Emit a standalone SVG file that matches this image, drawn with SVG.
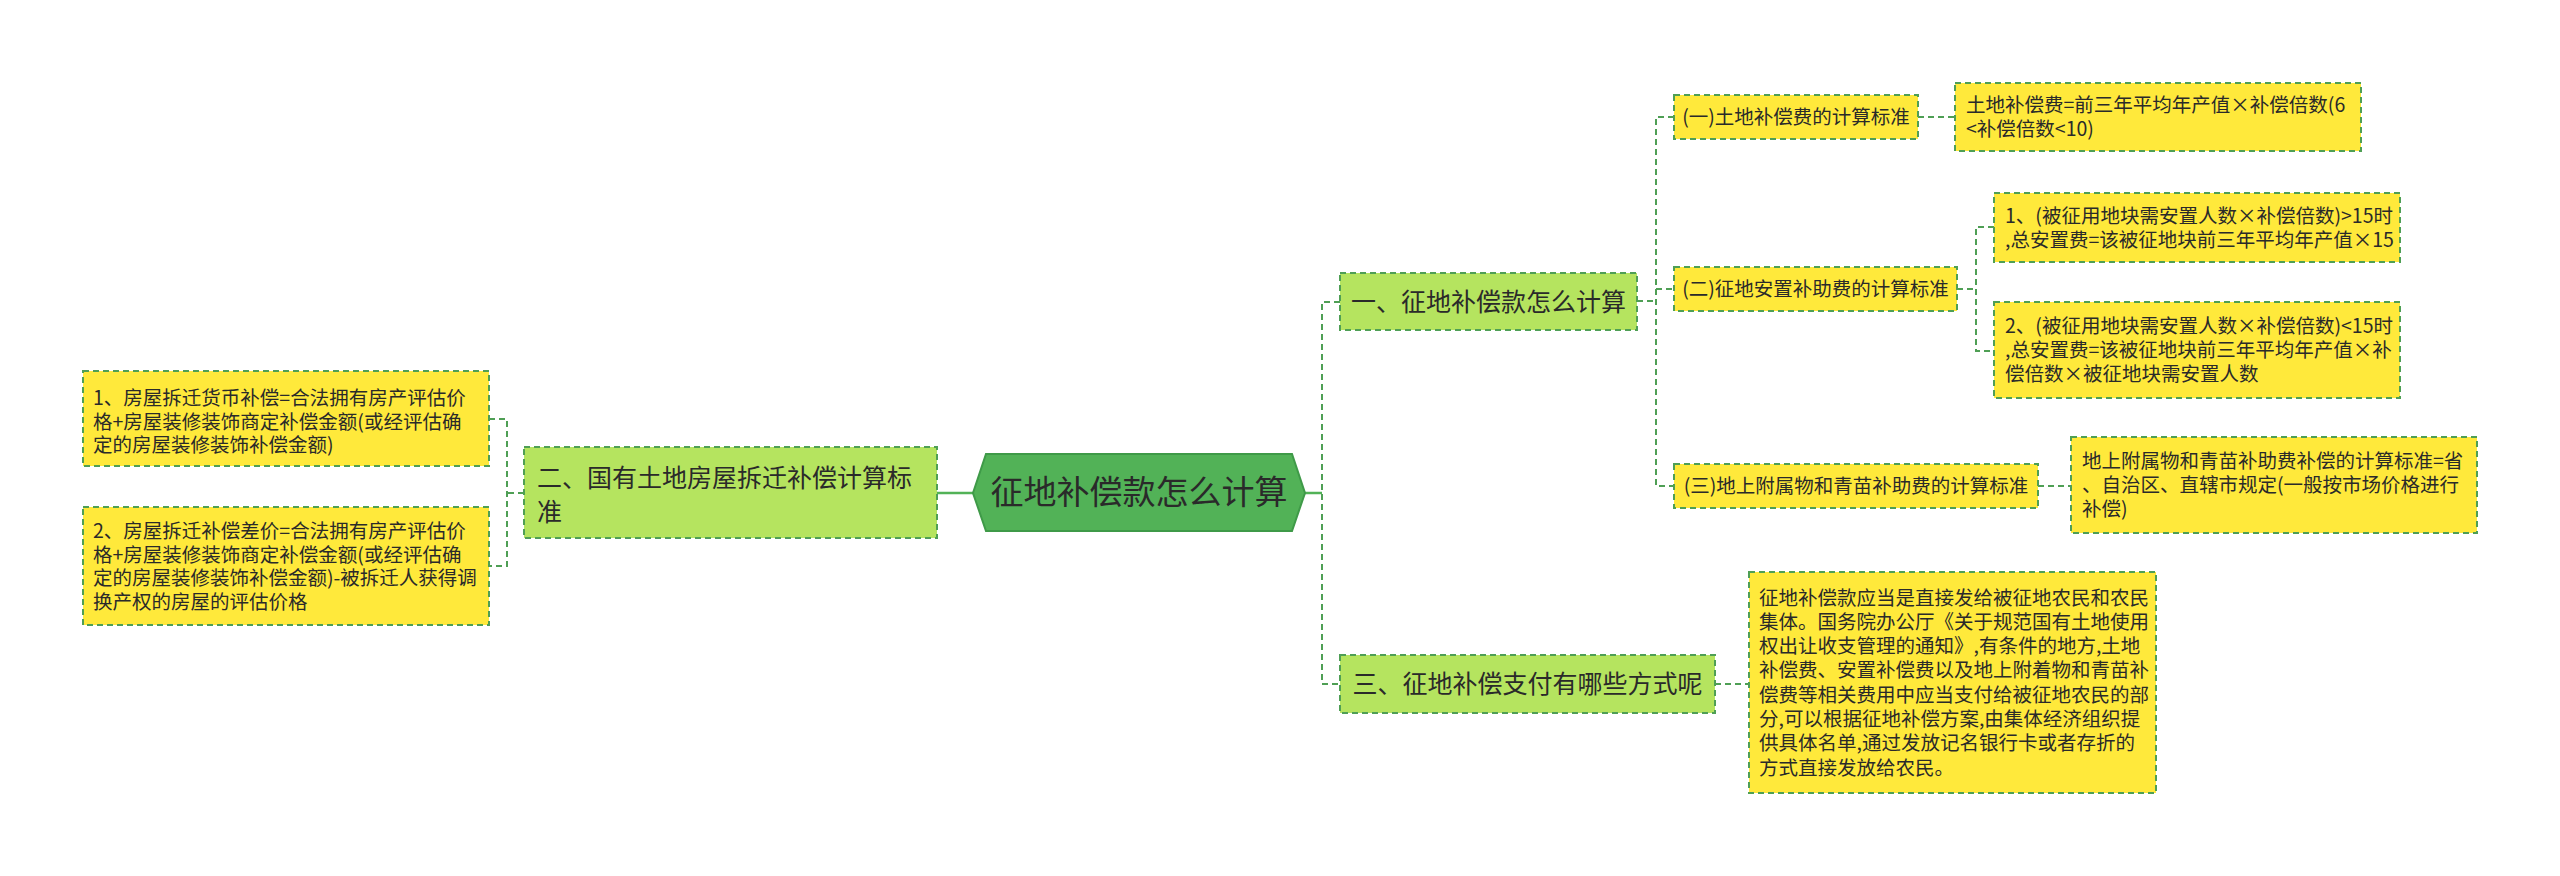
<svg xmlns="http://www.w3.org/2000/svg" width="2560" height="876" viewBox="0 0 2560 876">
<style>
text{font-family:"Microsoft YaHei","Noto Sans CJK SC","Noto Sans",sans-serif;fill:#2a2a2a}
.s{font-size:19.5px}
.m{font-size:25px}
.c{font-size:33px}
.mid{text-anchor:middle}
.y{fill:#ffe93b;stroke:#4f9f55;stroke-width:2;stroke-dasharray:6 4}
.g{fill:#b5e45f;stroke:#4f9f55;stroke-width:2;stroke-dasharray:6 4}
.hex{fill:#52b257;stroke:#3f9a48;stroke-width:2}
.d{fill:none;stroke:#4f9f55;stroke-width:2;stroke-dasharray:6 4}
.sol{fill:none;stroke:#52b257;stroke-width:2.5}
</style>
<rect width="2560" height="876" fill="#ffffff"/>
<g id="connectors">
<path class="sol" d="M973 493H937"/>
<path class="sol" d="M1305 493H1322"/>
<path class="d" d="M524 493H507M489 419H507V566H489"/>
<path class="d" d="M1340 302H1322V684H1340"/>
<path class="d" d="M1637 301H1656M1674 117H1656V486H1674M1656 289H1674"/>
<path class="d" d="M1918 117H1955"/>
<path class="d" d="M1957 289H1976M1994 227H1976V351H1994"/>
<path class="d" d="M2038 486H2071"/>
<path class="d" d="M1715 684H1749"/>
</g>
<g id="root">
<polygon class="hex" points="973,493 986,454 1292,454 1305,493 1292,531 986,531"/>
<text class="c mid" x="1139" y="504">征地补偿款怎么计算</text>
</g>
<g id="n2">
<rect class="g" x="524" y="447" width="413" height="91"/>
<text class="m" x="537" y="487">二、国有土地房屋拆迁补偿计算标</text>
<text class="m" x="537" y="521">准</text>
</g>
<g id="n2a">
<rect class="y" x="83" y="371" width="406" height="95"/>
<text class="s" x="93" y="405">1、房屋拆迁货币补偿=合法拥有房产评估价</text>
<text class="s" x="93" y="428.5">格+房屋装修装饰商定补偿金额(或经评估确</text>
<text class="s" x="93" y="452">定的房屋装修装饰补偿金额)</text>
</g>
<g id="n2b">
<rect class="y" x="83" y="507" width="406" height="118"/>
<text class="s" x="93" y="538">2、房屋拆迁补偿差价=合法拥有房产评估价</text>
<text class="s" x="93" y="561.5">格+房屋装修装饰商定补偿金额(或经评估确</text>
<text class="s" x="93" y="585">定的房屋装修装饰补偿金额)-被拆迁人获得调</text>
<text class="s" x="93" y="608.5">换产权的房屋的评估价格</text>
</g>
<g id="n1">
<rect class="g" x="1340" y="273" width="297" height="57"/>
<text class="m mid" x="1488.5" y="310.5">一、征地补偿款怎么计算</text>
</g>
<g id="n1a">
<rect class="y" x="1674" y="95" width="244" height="44"/>
<text class="s mid" x="1796" y="124">(一)土地补偿费的计算标准</text>
</g>
<g id="n1a1">
<rect class="y" x="1955" y="83" width="406" height="68"/>
<text class="s" x="1966" y="112">土地补偿费=前三年平均年产值×补偿倍数(6</text>
<text class="s" x="1966" y="136">&lt;补偿倍数&lt;10)</text>
</g>
<g id="n1b">
<rect class="y" x="1674" y="267" width="283" height="44"/>
<text class="s mid" x="1815.5" y="296">(二)征地安置补助费的计算标准</text>
</g>
<g id="n1b1">
<rect class="y" x="1994" y="193" width="406" height="69"/>
<text class="s" x="2005" y="222.5">1、(被征用地块需安置人数×补偿倍数)&gt;15时</text>
<text class="s" x="2005" y="246.5">,总安置费=该被征地块前三年平均年产值×15</text>
</g>
<g id="n1b2">
<rect class="y" x="1994" y="302" width="406" height="96"/>
<text class="s" x="2005" y="333">2、(被征用地块需安置人数×补偿倍数)&lt;15时</text>
<text class="s" x="2005" y="357">,总安置费=该被征地块前三年平均年产值×补</text>
<text class="s" x="2005" y="381">偿倍数×被征地块需安置人数</text>
</g>
<g id="n1c">
<rect class="y" x="1674" y="464" width="364" height="44"/>
<text class="s mid" x="1856" y="493">(三)地上附属物和青苗补助费的计算标准</text>
</g>
<g id="n1c1">
<rect class="y" x="2071" y="437" width="406" height="96"/>
<text class="s" x="2082" y="468">地上附属物和青苗补助费补偿的计算标准=省</text>
<text class="s" x="2082" y="492">、自治区、直辖市规定(一般按市场价格进行</text>
<text class="s" x="2082" y="516">补偿)</text>
</g>
<g id="n3">
<rect class="g" x="1340" y="655" width="375" height="58"/>
<text class="m mid" x="1527.5" y="693">三、征地补偿支付有哪些方式呢</text>
</g>
<g id="n3a">
<rect class="y" x="1749" y="572" width="407" height="221"/>
<text class="s" x="1759" y="604.5">征地补偿款应当是直接发给被征地农民和农民</text>
<text class="s" x="1759" y="628.8">集体。国务院办公厅《关于规范国有土地使用</text>
<text class="s" x="1759" y="653.1">权出让收支管理的通知》,有条件的地方,土地</text>
<text class="s" x="1759" y="677.4">补偿费、安置补偿费以及地上附着物和青苗补</text>
<text class="s" x="1759" y="701.7">偿费等相关费用中应当支付给被征地农民的部</text>
<text class="s" x="1759" y="726">分,可以根据征地补偿方案,由集体经济组织提</text>
<text class="s" x="1759" y="750.3">供具体名单,通过发放记名银行卡或者存折的</text>
<text class="s" x="1759" y="774.6">方式直接发放给农民。</text>
</g>
</svg>
